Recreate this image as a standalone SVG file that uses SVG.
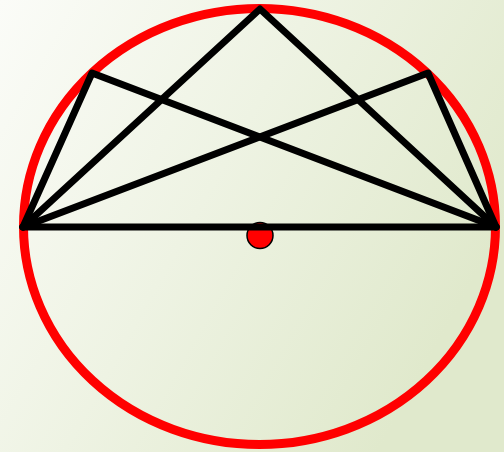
<svg xmlns="http://www.w3.org/2000/svg" width="504" height="452" viewBox="0 0 504 452">
<defs>
<linearGradient id="bg" x1="0" y1="0" x2="1" y2="0.5">
<stop offset="0" stop-color="#fbfcf8"/>
<stop offset="0.5" stop-color="#eef3e3"/>
<stop offset="1" stop-color="#e0e9cc"/>
</linearGradient>
<style>
.ln{stroke:#000;stroke-width:7;fill:none;stroke-linecap:round;stroke-linejoin:round}
</style>
</defs>
<rect width="504" height="452" fill="url(#bg)"/>
<ellipse cx="259.5" cy="226.5" rx="236" ry="218" fill="none" stroke="#ff0000" stroke-width="9"/>
<circle cx="260" cy="235.5" r="13" fill="#ff0000" stroke="#000" stroke-width="1.5"/>
<g id="lines">
<line class="ln" x1="23" y1="227" x2="496" y2="227"/>
<polyline class="ln" points="23,227 92,73 496,227"/>
<polyline class="ln" points="23,227 260,9 496,227"/>
<polyline class="ln" points="23,227 428,73 496,227"/>
</g>
</svg>
